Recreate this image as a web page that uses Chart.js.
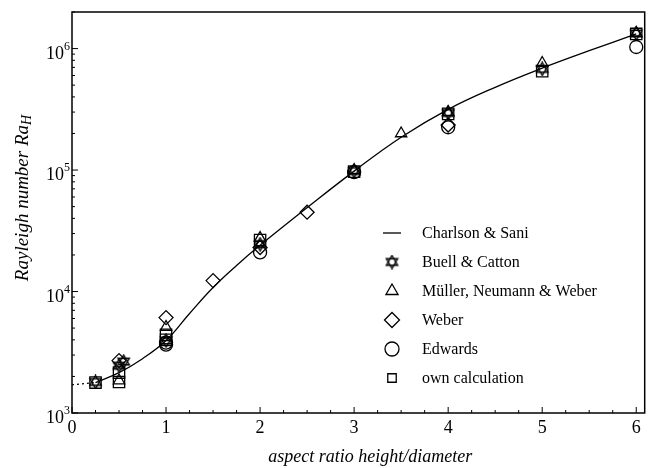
<!DOCTYPE html>
<html lang="en">
<head>
<meta charset="UTF-8">
<title>Rayleigh number vs aspect ratio</title>
<script src="https://cdn.jsdelivr.net/npm/chart.js"></script>
<style>
  body { margin: 0; background: #fff; }
  canvas { display: block; }
</style>
</head>
<body>
<canvas id="chart" width="654" height="468"></canvas>
<script>
// Charlson & Sani curve
const curveX = [0.25, 0.5, 0.75, 1, 1.25, 1.5, 1.75, 2, 2.5, 3, 3.5, 4, 4.5, 5, 5.5, 6];
const curveY = [1780, 2150, 2800, 3950, 6600, 10800, 16400, 24000, 49000, 98000, 186000, 316000, 480000, 690000, 960000, 1320000];
// dotted continuation down to aspect ratio 0
const dottedX = [0, 0.25];
const dottedY = [1708, 1780];

const buellX = [0.25, 0.5, 0.55, 1, 2, 3, 4, 5, 6];
const buellY = [1800, 2450, 2650, 3950, 24500, 98000, 295000, 680000, 1330000];
const muellerX = [0.5, 1, 2, 3, 3.5, 4, 5, 6];
const muellerY = [1850, 5100, 27500, 100000, 200000, 300000, 760000, 1350000];
const weberX = [0.5, 1, 1.5, 2, 2.5, 4];
const weberY = [2700, 6100, 12300, 23000, 45000, 235000];
const edwardsX = [1, 1, 2, 3, 4, 6];
const edwardsY = [3650, 3800, 21000, 96000, 225000, 1030000];
const ownX = [0.25, 0.5, 0.5, 1, 1, 2, 3, 4, 5, 6];
const ownY = [1780, 1800, 2150, 4400, 4000, 26500, 97000, 290000, 650000, 1320000];

const xTickValues = [0, 1, 2, 3, 4, 5, 6];
const yDecades = [3, 4, 5, 6];
const legendLabels = ['Charlson & Sani', 'Buell & Catton', 'Müller, Neumann & Weber', 'Weber', 'Edwards', 'own calculation'];

const SERIF = '"Liberation Serif", "DejaVu Serif", serif';

function pairs(xs, ys) { return xs.map((x, i) => ({ x: x, y: ys[i] })); }

// star of David marker
function hexagram(size) {
  const c = document.createElement('canvas');
  c.width = size; c.height = size;
  const g = c.getContext('2d');
  const cx = size / 2, cy = size / 2, r = size / 2 - 1;
  g.strokeStyle = '#000';
  g.lineWidth = 1.4;
  [ -Math.PI / 2, Math.PI / 2 ].forEach(a0 => {
    g.beginPath();
    for (let k = 0; k < 3; k++) {
      const a = a0 + k * 2 * Math.PI / 3;
      const px = cx + r * Math.cos(a), py = cy + r * Math.sin(a);
      if (k === 0) g.moveTo(px, py); else g.lineTo(px, py);
    }
    g.closePath();
    g.stroke();
  });
  return c;
}
const starImg = hexagram(15);

const markerBase = {
  type: 'scatter',
  showLine: false,
  borderColor: '#000',
  backgroundColor: 'rgba(0,0,0,0)',
  borderWidth: 1.3
};

const legendMarkers = [
  null,
  { pointStyle: starImg, radius: 7 },
  { pointStyle: 'triangle', radius: 7 },
  { pointStyle: 'rectRot', radius: 7.5 },
  { pointStyle: 'circle', radius: 7 },
  { pointStyle: 'rect', radius: 6 }
];

const decorPlugin = {
  id: 'decor',
  afterDraw(chart) {
    const ctx = chart.ctx;
    const a = chart.chartArea;
    const xs = chart.scales.x, ys = chart.scales.y;
    ctx.save();
    ctx.strokeStyle = '#000';
    ctx.fillStyle = '#000';

    // frame
    ctx.lineWidth = 1.5;
    ctx.strokeRect(a.left, a.top, a.right - a.left, a.bottom - a.top);

    // inward ticks on x axis, every 0.25
    ctx.lineWidth = 1;
    for (let v = 0; v <= 6.001; v += 0.25) {
      const px = xs.getPixelForValue(v);
      const len = Number.isInteger(v) ? 6 : 3;
      ctx.beginPath();
      ctx.moveTo(px, a.bottom); ctx.lineTo(px, a.bottom - len);
      ctx.stroke();
    }
    // inward ticks on y axis
    yDecades.forEach(d => {
      for (let m = 1; m <= 9; m++) {
        const val = m * Math.pow(10, d);
        if (val > ys.max) break;
        const py = ys.getPixelForValue(val);
        const len = m === 1 ? 6 : 3;
        ctx.beginPath();
        ctx.moveTo(a.left, py); ctx.lineTo(a.left + len, py);
        ctx.stroke();
      }
    });

    // y tick labels 10^n
    yDecades.forEach(d => {
      const py = ys.getPixelForValue(Math.pow(10, d));
      ctx.font = '12px ' + SERIF;
      ctx.textAlign = 'right';
      ctx.textBaseline = 'alphabetic';
      const sup = String(d);
      const supW = ctx.measureText(sup).width;
      ctx.fillText(sup, a.left - 2, py + 1);
      ctx.font = '18px ' + SERIF;
      ctx.fillText('10', a.left - 2 - supW, py + 10);
    });

    // x axis title
    ctx.font = 'italic 18px ' + SERIF;
    ctx.textAlign = 'center';
    ctx.textBaseline = 'middle';
    ctx.fillText('aspect ratio height/diameter', (a.left + a.right) / 2 + 12, 457);

    // y axis title
    ctx.save();
    ctx.translate(22, 198);
    ctx.rotate(-Math.PI / 2);
    ctx.font = 'italic 19px ' + SERIF;
    const main = 'Rayleigh number Ra';
    const mw = ctx.measureText(main).width;
    ctx.font = 'italic 14px ' + SERIF;
    const hw = ctx.measureText('H').width;
    const start = -(mw + hw) / 2;
    ctx.textAlign = 'left';
    ctx.textBaseline = 'alphabetic';
    ctx.font = 'italic 19px ' + SERIF;
    ctx.fillText(main, start, 6);
    ctx.font = 'italic 14px ' + SERIF;
    ctx.fillText('H', start + mw, 9);
    ctx.restore();

    // legend
    const symX = 392, textX = 422, y0 = 233, dy = 29;
    ctx.textAlign = 'left';
    ctx.textBaseline = 'middle';
    legendLabels.forEach((lab, i) => {
      const y = y0 + i * dy;
      const mk = legendMarkers[i];
      ctx.lineWidth = 1.3;
      if (mk === null) {
        ctx.beginPath();
        ctx.moveTo(383, y); ctx.lineTo(401, y);
        ctx.stroke();
      } else {
        ctx.fillStyle = 'rgba(0,0,0,0)';
        Chart.helpers.drawPoint(ctx, { pointStyle: mk.pointStyle, radius: mk.radius, rotation: 0, borderWidth: 1.3 }, symX, y);
      }
      ctx.fillStyle = '#000';
      ctx.font = '16px ' + SERIF;
      ctx.fillText(lab, textX, y + 1);
    });
    ctx.restore();
  }
};

new Chart(document.getElementById('chart'), {
  type: 'scatter',
  data: {
    datasets: [
      {
        type: 'line', label: 'Charlson & Sani', data: pairs(curveX, curveY),
        borderColor: '#000', borderWidth: 1.3, pointRadius: 0, tension: 0.4, fill: false
      },
      {
        type: 'line', label: 'limit', data: pairs(dottedX, dottedY),
        borderColor: '#000', borderWidth: 1.2, borderDash: [2, 3], pointRadius: 0, fill: false
      },
      Object.assign({}, markerBase, { label: 'Edwards', data: pairs(edwardsX, edwardsY), pointStyle: 'circle', pointRadius: 6.5 }),
      Object.assign({}, markerBase, { label: 'own calculation', data: pairs(ownX, ownY), pointStyle: 'rect', pointRadius: 8 }),
      Object.assign({}, markerBase, { label: 'Müller, Neumann & Weber', data: pairs(muellerX, muellerY), pointStyle: 'triangle', pointRadius: 6.5 }),
      Object.assign({}, markerBase, { label: 'Weber', data: pairs(weberX, weberY), pointStyle: 'rectRot', pointRadius: 7 }),
      Object.assign({}, markerBase, { label: 'Buell & Catton', data: pairs(buellX, buellY), pointStyle: starImg, pointRadius: 7 })
    ]
  },
  options: {
    responsive: false,
    animation: false,
    layout: { padding: { top: 12, right: 1, left: 0, bottom: 0 } },
    plugins: { legend: { display: false }, tooltip: { enabled: false } },
    scales: {
      x: {
        type: 'linear', min: 0, max: 6.09,
        grid: { display: false, drawTicks: false },
        border: { display: false },
        afterBuildTicks: s => { s.ticks = xTickValues.map(v => ({ value: v })); },
        ticks: { color: '#000', font: { family: SERIF, size: 18 }, padding: 4, maxRotation: 0 },
        afterFit: s => { s.height = 55; }
      },
      y: {
        type: 'logarithmic', min: 1000, max: 2000000,
        grid: { display: false, drawTicks: false },
        border: { display: false },
        ticks: { display: false },
        afterFit: s => { s.width = 72; }
      }
    }
  },
  plugins: [decorPlugin]
});
</script>
</body>
</html>
